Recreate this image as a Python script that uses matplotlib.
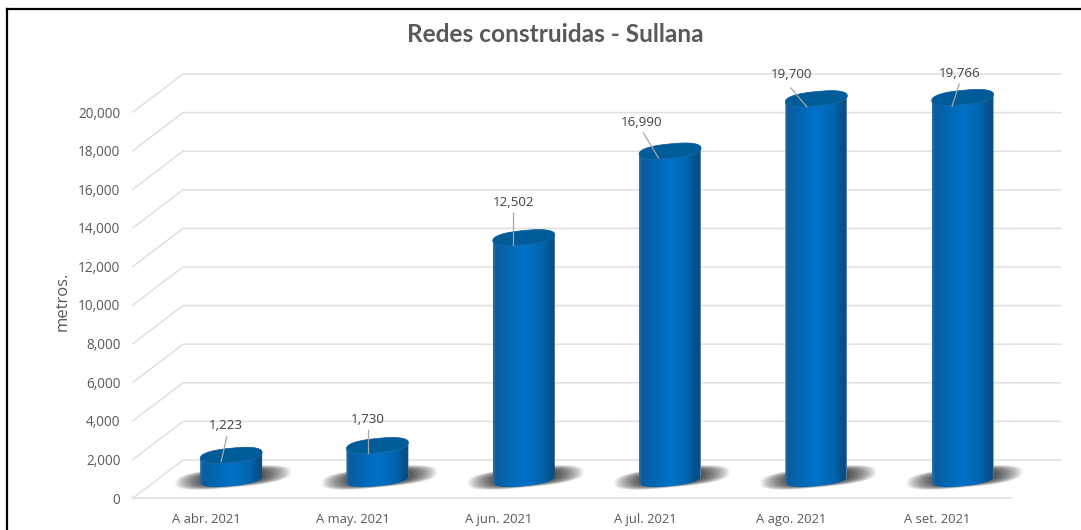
import numpy as np
import matplotlib
matplotlib.use("Agg")
import matplotlib.pyplot as plt
from matplotlib.colors import LinearSegmentedColormap
from matplotlib.patches import Polygon
from matplotlib.lines import Line2D

categories = ["A abr. 2021", "A may. 2021", "A jun. 2021", "A jul. 2021", "A ago. 2021", "A set. 2021"]
values = [1223, 1730, 12502, 16990, 19700, 19766]
ticks = list(range(0, 20001, 2000))
title = "Redes construidas - Sullana"
ylabel = "metros."

W, H = 1081, 530
PX_PER_CAT = 146.3
PX_PER_UNIT = 0.0193
YMAX = 24000
LEFT, BOTTOM = 133, 498
TEXT = "#595959"

fig = plt.figure(figsize=(W / 100, H / 100), dpi=100, facecolor="white")
ax = fig.add_axes([LEFT / W, (H - BOTTOM) / H, 6 * PX_PER_CAT / W, YMAX * PX_PER_UNIT / H])
ax.patch.set_visible(False)
for s in ax.spines.values():
    s.set_visible(False)

px = 1 / PX_PER_CAT      # one pixel in category units
py = 1 / PX_PER_UNIT     # one pixel in value units
DX, DY = 50 * px, 38 * py

# Perspective gridlines
for t in ticks:
    ax.plot([-0.5, -0.5 + DX, 5.5 + DX], [t, t + DY, t + DY], color="#e0e0e0", lw=1.1,
            clip_on=False, zorder=1, solid_joinstyle="miter")
ax.plot([-0.5, 5.5], [0, 0], color="#dcdcdc", lw=1.1, clip_on=False, zorder=1)

ax.set_xticks(range(len(categories)), categories, fontfamily="Open Sans", fontsize=9.4, color=TEXT)
ax.set_yticks(ticks, [f"{t:,}" for t in ticks], fontfamily="Open Sans", fontsize=9.8, color=TEXT)
ax.tick_params(axis="x", length=0, pad=10.5)
ax.tick_params(axis="y", length=0, pad=9)

cmap = LinearSegmentedColormap.from_list("cyl", [
    (0.00, "#2a6ea6"), (0.05, "#0b5c9e"), (0.25, "#0067b4"), (0.50, "#0072c6"),
    (0.78, "#0065b0"), (0.93, "#07508a"), (0.985, "#0d4a78"), (1.00, "#6f9fc0")])
grad = np.linspace(0, 1, 128).reshape(1, -1)

A, B, SHEAR = 31 * px, 7.2 * py, 3.0 * py
t_ = np.linspace(0, 2 * np.pi, 181)


def rim(cx, cy, t):
    """Rounded, slightly tilted outline of a cylinder end."""
    c, s = np.cos(t), np.sin(t)
    sx = np.sign(c) * np.abs(c) ** 0.78
    sy = np.sign(s) * np.abs(s) ** 0.9
    return cx + A * sx, cy + B * sy + SHEAR * sx


# label centre relative to the bar top, in pixels (right, up)
label_off = [(-5.3, 29.7), (-9.8, 26.6), (-10.5, 35.7), (-28.5, 29), (-24.5, 23.8), (-3.5, 24.5)]
# leader line ends relative to the bar top, in pixels (right, up)
leader_off = [((-4.4, 18.7), (-10, -6.3)), ((-9.5, 15.6), (-9.5, -7.4)), ((-10.5, 24.7), (-10.5, -7.3)),
              ((-26.5, 18), (-11.5, -7)), ((-25.5, 10.8), (-9.5, -8.2)), ((-3.5, 13.5), (-10.5, -8.5))]

for i, v in enumerate(values):
    cx = i + DX / 2
    base = DY / 2
    top = v + base

    # soft shadow on the floor
    for sc in np.linspace(1.0, 0.42, 28):
        c, s = np.cos(t_), np.sin(t_)
        sx = np.sign(c) * np.abs(c) ** 0.72
        sy = np.sign(s) * np.abs(s) ** 0.72
        xs = cx + 2 * px + 58 * px * sc * sx
        ys = base + 1.5 * py + 10 * py * (0.3 + 0.7 * sc) * sy + 5.5 * py * sc * sx
        ax.add_patch(Polygon(np.c_[xs, ys], closed=True, fc="black", ec="none",
                             alpha=0.045, zorder=2, clip_on=False))

    # cylinder body: side gradient clipped to the cylinder outline
    bx, by = rim(cx, base, np.linspace(np.pi, 2 * np.pi, 60))
    tx, ty = rim(cx, top, np.linspace(0, np.pi, 60))
    outline = Polygon(np.c_[np.r_[bx, tx], np.r_[by, ty]], closed=True, transform=ax.transData)
    im = ax.imshow(grad, cmap=cmap, extent=[cx - A, cx + A, base - 2 * B, top + 2 * B],
                   aspect="auto", zorder=3, interpolation="bilinear")
    im.set_clip_path(outline)

    # cylinder top
    ex, ey = rim(cx, top, t_)
    ax.add_patch(Polygon(np.c_[ex, ey], closed=True, fc="#005b99", ec="#1f6ba3", lw=0.5, zorder=4))

    # data label and leader line
    lx, ly = label_off[i]
    ax.text(cx + lx * px, top + ly * py, f"{v:,}", ha="center", va="center",
            fontfamily="Open Sans", fontsize=9.6, color="#404040", zorder=6)
    (x0, y0), (x1, y1) = leader_off[i]
    ax.plot([cx + x0 * px, cx + x1 * px], [top + y0 * py, top + y1 * py], color="#a6a6a6",
            lw=0.9, zorder=5, clip_on=False)

ax.set_xlim(-0.5, 5.5)
ax.set_ylim(0, YMAX)

fig.text(555 / W, 1 - 34 / H, title, ha="center", va="center", fontfamily="Lato",
         fontweight="bold", fontsize=17.6, color=TEXT)
fig.text(63 / W, 1 - 301 / H, ylabel, ha="center", va="center", rotation=90,
         fontfamily="Open Sans", fontsize=12, color=TEXT)

# Black frame on the left and top
fig.add_artist(Line2D([6.5 / W, 6.5 / W], [0, 1 - 9 / H], color="black", lw=1.6))
fig.add_artist(Line2D([6.5 / W, 1], [1 - 9 / H, 1 - 9 / H], color="black", lw=1.6))

fig.savefig("out.png", dpi=100, facecolor="white")
